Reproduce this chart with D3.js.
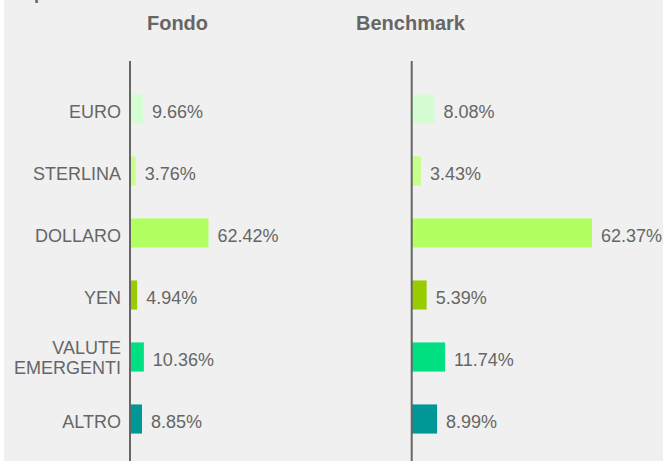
<!DOCTYPE html>
<html>
<head>
<meta charset="utf-8">
<script src="https://cdn.jsdelivr.net/npm/d3@7"></script>
<style>
html,body{margin:0;padding:0;background:#fff;}
svg{display:block;}
</style>
</head>
<body>
<svg id="chart" width="663" height="461"></svg>
<script>
const categories = ["EURO", "STERLINA", "DOLLARO", "YEN", "VALUTE EMERGENTI", "ALTRO"];
const fondoValues = [9.66, 3.76, 62.42, 4.94, 10.36, 8.85];
const benchmarkValues = [8.08, 3.43, 62.37, 5.39, 11.74, 8.99];
const barColors = ["#d4fdd4", "#c6ff8a", "#b2ff62", "#99cc00", "#00e082", "#009797"];
const panelTitles = ["Fondo", "Benchmark"];
const heading = "Esposizione valutaria";

const svg = d3.select("#chart");
const W = 663, H = 461;
const textColor = "#666666";
const font = "Liberation Sans, Arial, Helvetica, sans-serif";

svg.append("rect").attr("x", 4).attr("y", 0).attr("width", W - 4).attr("height", H).attr("fill", "#f0f0f0");

svg.append("text").attr("x", 12).attr("y", -1)
  .attr("font-family", font).attr("font-size", 18).attr("font-weight", "bold")
  .attr("fill", textColor).text(heading);

const y = d3.scaleBand().domain(categories).range([78, 450]).paddingInner(0.53).paddingOuter(0.265);

const panels = [
  {title: panelTitles[0], values: fondoValues, axisX: 130, titleX: 177.5,
   x: d3.scaleLinear().domain([0, d3.max(fondoValues)]).range([131, 208.5])},
  {title: panelTitles[1], values: benchmarkValues, axisX: 411.7, titleX: 410.5,
   x: d3.scaleLinear().domain([0, d3.max(benchmarkValues)]).range([411, 592])}
];

panels.forEach(p => {
  const g = svg.append("g");
  g.append("text").attr("x", p.titleX).attr("y", 29.5).attr("text-anchor", "middle")
    .attr("font-family", font).attr("font-size", 20).attr("font-weight", "bold")
    .attr("fill", textColor).text(p.title);

  g.selectAll("rect.bar").data(categories).join("rect")
    .attr("class", "bar")
    .attr("x", p.x(0))
    .attr("y", d => y(d))
    .attr("width", (d, i) => p.x(p.values[i]) - p.x(0))
    .attr("height", y.bandwidth())
    .attr("fill", (d, i) => barColors[i]);

  g.selectAll("text.val").data(categories).join("text")
    .attr("class", "val")
    .attr("x", (d, i) => p.x(p.values[i]) + 9)
    .attr("y", d => y(d) + y.bandwidth() / 2 + 8.5)
    .attr("font-family", font).attr("font-size", 18)
    .attr("fill", textColor)
    .text((d, i) => p.values[i].toFixed(2) + "%");

  g.append("line").attr("x1", p.axisX).attr("x2", p.axisX)
    .attr("y1", 61).attr("y2", H)
    .attr("stroke", "#666").attr("stroke-width", 2);
});

// category labels
const labels = svg.append("g");
categories.forEach(c => {
  const words = c.split(" ");
  const cy = y(c) + y.bandwidth() / 2;
  const t = labels.append("text")
    .attr("text-anchor", "end")
    .attr("font-family", font).attr("font-size", 18)
    .attr("fill", textColor);
  if (words.length === 1) {
    t.append("tspan").attr("x", 121).attr("y", cy + 8.5).text(c);
  } else {
    words.forEach((w, i) => {
      t.append("tspan").attr("x", 121).attr("y", cy - 3.5 + i * 20.5).text(w);
    });
  }
});
</script>
</body>
</html>
